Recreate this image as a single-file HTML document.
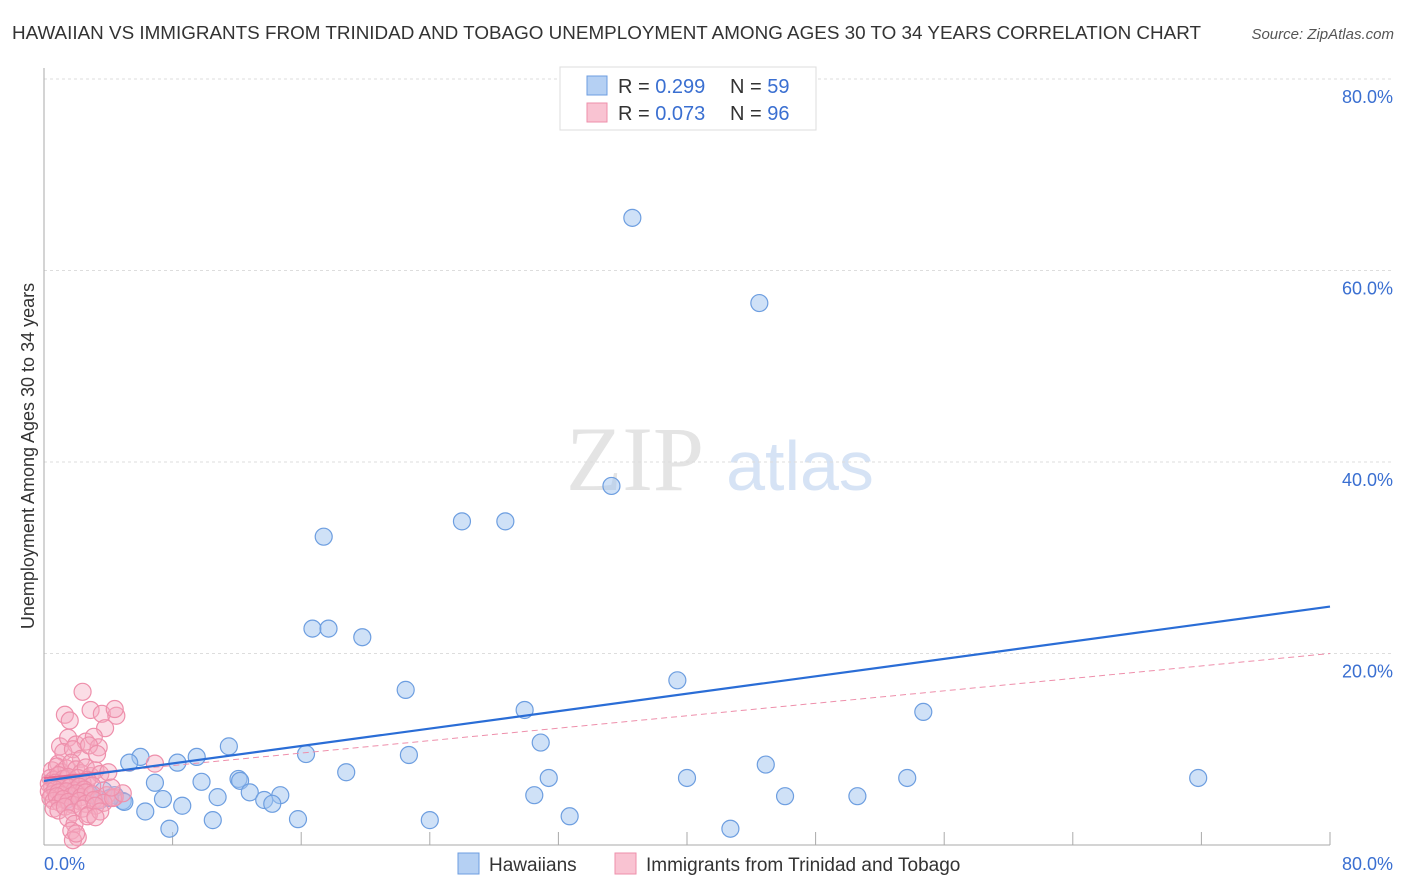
<!DOCTYPE html>
<html><head><meta charset="utf-8"><style>
body{margin:0;background:#fff;font-family:"Liberation Sans",sans-serif}
#c{position:relative;width:1406px;height:892px;overflow:hidden}
</style></head><body>
<div id="c">
<svg id="s" width="1406" height="892" xmlns="http://www.w3.org/2000/svg">
<text x="12" y="39" font-size="18.5" fill="#333" textLength="1189" lengthAdjust="spacingAndGlyphs">HAWAIIAN VS IMMIGRANTS FROM TRINIDAD AND TOBAGO UNEMPLOYMENT AMONG AGES 30 TO 34 YEARS CORRELATION CHART</text>
<text x="1394" y="39" font-size="15" fill="#555" font-style="italic" text-anchor="end">Source: ZipAtlas.com</text>
<text x="635" y="490" font-size="92" fill="#e4e4e4" font-family="Liberation Serif,serif" text-anchor="middle">ZIP</text>
<text x="800" y="490" font-size="70" fill="#d6e3f5" text-anchor="middle">atlas</text>
<text transform="translate(34,456) rotate(-90)" font-size="18" fill="#333" text-anchor="middle">Unemployment Among Ages 30 to 34 years</text>
<g id="grid"></g><g id="pts"></g><g id="lines"></g>
<g>
<rect x="560" y="67" width="256" height="63" fill="#fff" stroke="#ddd"/>
<rect x="587" y="76" width="20" height="19" fill="#b5d0f3" stroke="#6d9ee0"/>
<rect x="587" y="103" width="20" height="19" fill="#f9c3d2" stroke="#ee8fab"/>
<text x="618" y="93" font-size="20" fill="#333">R = <tspan fill="#3a6fd1">0.299</tspan></text>
<text x="730" y="93" font-size="20" fill="#333">N = <tspan fill="#3a6fd1">59</tspan></text>
<text x="618" y="120" font-size="20" fill="#333">R = <tspan fill="#3a6fd1">0.073</tspan></text>
<text x="730" y="120" font-size="20" fill="#333">N = <tspan fill="#3a6fd1">96</tspan></text>
</g>
<g>
<rect x="458" y="853" width="21" height="21" fill="#b5d0f3" stroke="#6d9ee0"/>
<text x="489" y="871" font-size="19" fill="#333">Hawaiians</text>
<rect x="615" y="853" width="21" height="21" fill="#f9c3d2" stroke="#ee8fab"/>
<text x="646" y="871" font-size="19" fill="#333">Immigrants from Trinidad and Tobago</text>
</g>
</svg></div>
<script>
const yTicks=[20,40,60,80];
const yTickLabels=["20.0%","40.0%","60.0%","80.0%"];
const xTicks=[8,16,24,32,40,48,56,64,72,80];
const xEndLabels=["0.0%","80.0%"];
const blueX=[36.6,44.5,35.3,26.0,28.7,17.4,16.7,17.7,19.8,22.5,39.4,29.9,54.7,30.9,11.5,6.0,9.5,8.3,16.3,22.7,5.3,18.8,31.4,40.0,44.9,53.7,71.8,12.1,12.2,9.8,12.8,7.4,8.6,10.8,14.7,13.7,14.2,4.4,4.9,30.5,46.1,50.6,6.3,10.5,15.8,24.0,32.7,7.8,42.7,3.7,2.9,1.6,1.0,2.2,5.0,6.9,3.5,1.4,4.1];
const blueY=[65.5,56.6,37.5,33.8,33.8,32.2,22.6,22.6,21.7,16.2,17.2,14.1,13.9,10.7,10.3,9.2,9.2,8.6,9.5,9.4,8.6,7.6,7.0,7.0,8.4,7.0,7.0,6.9,6.7,6.6,5.5,4.8,4.1,5.0,5.2,4.7,4.3,5.2,4.6,5.2,5.1,5.1,3.5,2.6,2.7,2.6,3.0,1.7,1.7,5.7,5.2,5.2,5.7,6.3,4.5,6.5,4.7,4.7,4.9];
const pinkX=[2.4,1.3,2.9,1.6,3.6,4.5,4.4,3.8,1.0,1.5,2.0,2.6,3.1,3.4,0.9,1.2,1.8,2.3,2.8,3.3,0.5,0.8,1.1,1.4,1.7,2.0,2.3,2.6,2.9,3.2,3.5,4.0,0.4,0.6,0.9,1.2,1.5,1.8,2.1,2.4,2.7,3.0,0.3,0.5,0.7,1.0,1.3,1.6,1.9,2.2,2.5,0.3,0.5,0.7,0.9,1.1,1.4,1.7,2.0,2.3,2.6,3.0,3.4,3.9,4.4,0.4,0.6,0.8,1.0,1.2,1.5,1.8,2.2,2.6,3.1,3.7,4.3,4.9,0.6,0.9,1.3,1.8,2.4,2.8,3.2,1.5,1.9,2.7,3.5,1.7,2.1,3.2,1.8,2.0,6.9,4.2];
const pinkY=[16.0,13.6,14.1,13.0,13.7,13.5,14.2,12.2,10.3,11.2,10.5,10.8,11.3,10.2,8.5,9.7,10.0,9.0,10.4,9.5,7.8,8.2,7.6,8.0,8.6,7.9,7.5,8.1,7.2,7.8,7.4,7.6,7.0,6.8,7.3,6.9,7.1,6.6,7.0,6.5,6.8,6.2,6.4,6.1,6.5,5.9,6.3,6.0,5.7,6.1,5.8,5.6,5.3,5.8,5.5,5.2,5.6,5.1,5.4,5.0,5.5,5.3,4.8,5.2,5.0,4.9,4.6,5.1,4.4,4.8,4.5,4.2,4.6,4.3,4.7,4.4,4.9,5.4,3.8,3.6,4.0,3.4,3.8,3.2,4.1,2.8,2.2,3.0,3.5,1.5,0.8,2.9,0.5,1.2,8.5,6.0];
const blueTrend=[6.7,24.9];
const pinkTrend=[7.0,20.0];
const sx=v=>44+v*16.075, sy=v=>845-v*9.575;
const NS="http://www.w3.org/2000/svg";
function mk(tag,attrs,parent){const e=document.createElementNS(NS,tag);for(const k in attrs)e.setAttribute(k,attrs[k]);document.getElementById(parent).appendChild(e);return e;}
yTicks.forEach((t,i)=>{
 const l=mk('line',{x1:44,x2:1394,y1:sy(t),y2:sy(t),stroke:'#ddd','stroke-dasharray':'3,3'},'grid');
 
 
 const tx=mk('text',{x:1393,y:sy(t)+24,'font-size':18,fill:'#3a6fd1','text-anchor':'end'},'grid');
 tx.textContent=yTickLabels[i];
 
 
});
const ya=mk('line',{x1:44,x2:44,y1:68,y2:845,stroke:'#aaa'},'grid');


const xa=mk('line',{x1:44,x2:1330,y1:845,y2:845,stroke:'#aaa'},'grid');


xTicks.forEach(t=>{
 const l=mk('line',{x1:sx(t),x2:sx(t),y1:832,y2:845,stroke:'#aaa'},'grid');
 
 
});
[[0,'start',44],[80,'end',1393]].forEach((d,i)=>{
 const tx=mk('text',{x:d[2],y:870,'font-size':18,fill:'#3a6fd1','text-anchor':d[1]},'grid');
 tx.textContent=xEndLabels[i];
 
 
});
blueX.forEach((x,i)=>{
 const c=mk('circle',{cx:sx(x),cy:sy(blueY[i]),r:8.5,fill:'rgba(160,196,240,0.5)',stroke:'#6d9ee0','stroke-width':1.2},'pts');
 
 
});
pinkX.forEach((x,i)=>{
 const c=mk('circle',{cx:sx(x),cy:sy(pinkY[i]),r:8.5,fill:'rgba(246,170,192,0.4)',stroke:'#ee8fab','stroke-width':1.2},'pts');
 
 
});
const pd=mk('line',{x1:sx(0),y1:sy(pinkTrend[0]),x2:sx(80),y2:sy(pinkTrend[1]),stroke:'#ee8fab','stroke-width':1,'stroke-dasharray':'6,4'},'lines');


const ps=mk('line',{x1:sx(0),y1:sy(pinkTrend[0]),x2:sx(5.5),y2:sy(pinkTrend[0]+(pinkTrend[1]-pinkTrend[0])*5.5/80),stroke:'#e76a92','stroke-width':2},'lines');


const bl=mk('line',{x1:sx(0),y1:sy(blueTrend[0]),x2:sx(80),y2:sy(blueTrend[1]),stroke:'#2a6dd6','stroke-width':2.2},'lines');


</script>
</body></html>
